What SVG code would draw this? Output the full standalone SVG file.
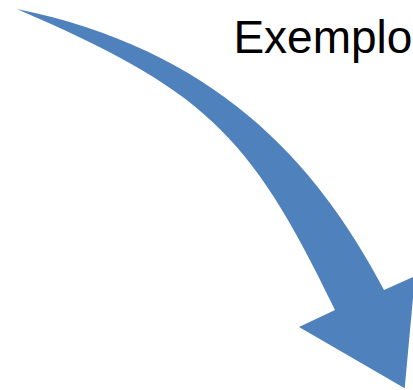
<svg xmlns="http://www.w3.org/2000/svg" width="413" height="390" viewBox="0 0 413 390">
<style>
.arrow{fill:#4F81BD;stroke:none}
.label{font-family:"Liberation Sans",Arial,sans-serif;font-size:46px;fill:#000}
</style>
<rect width="413" height="390" fill="#fff"/>
<g id="connectors">
<path id="curved-arrow" class="arrow" d="M17,9 C213,49 316,160 384,290 L415,276 L404.7,388.3 L299,327 L335,310 C249,130 201,89 17,9 Z"/>
</g>
<g id="title">
<text class="label" x="233.4" y="53">Exemplo</text>
</g>
</svg>
